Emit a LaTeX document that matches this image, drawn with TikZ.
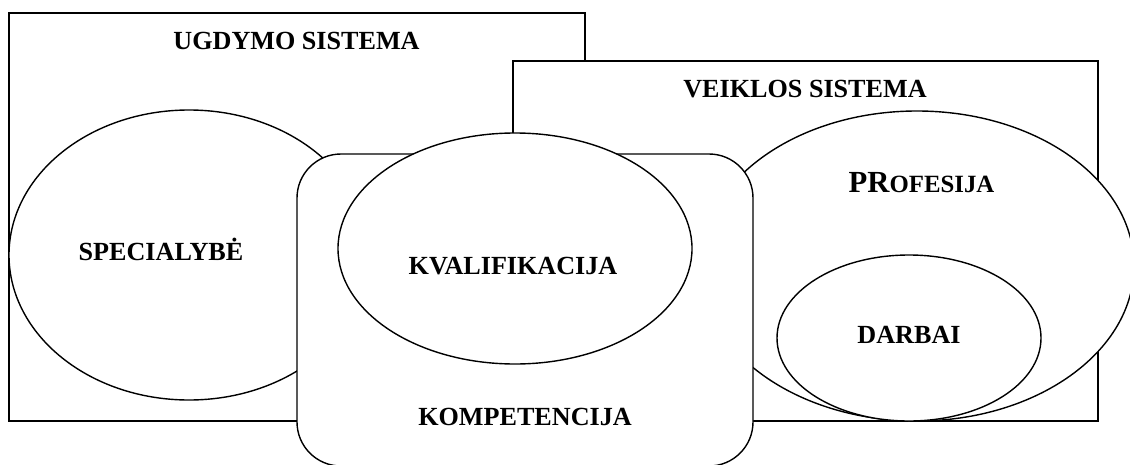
\documentclass[tikz,border=0pt]{standalone}
\usepackage{fontspec}
\setmainfont{Liberation Serif}
\begin{document}
\begin{tikzpicture}[x=0.75pt,y=-0.75pt,
  figshape/.style={draw=black,fill=white,line width=1.05pt},
  lbl/.style={anchor=base,inner sep=0pt,font=\fontsize{19.6}{23}\selectfont\bfseries}]
\useasboundingbox (0,0) rectangle (1130,464);
\clip (0,0) rectangle (1130,464);
% systems
\draw[figshape] (9,13) rectangle (585,421);
\draw[figshape] (513,61) rectangle (1098,421);
% outer ellipses
\draw[figshape] (189,255) ellipse [x radius=180, y radius=145];
\draw[figshape] (917,266) ellipse [x radius=217, y radius=155];
% competence
\draw[figshape,rounded corners=33pt] (297,154) rectangle (753,466);
% inner ellipses
\draw[figshape] (515,248.5) ellipse [x radius=177, y radius=115.5];
\draw[figshape] (909,338) ellipse [x radius=132, y radius=83];
% labels
\node[lbl] (ugd) at (296.5,49.3) {UGDYMO SISTEMA};
\node[lbl] (vei) at (805,97) {VEIKLOS SISTEMA};
\node[lbl] (spe) at (161,260) {SPECIALYBĖ};
\node[lbl] (kva) at (513,274) {KVALIFIKACIJA};
\node[lbl] (kom) at (525,425) {KOMPETENCIJA};
\node[anchor=base,inner sep=0pt,font=\bfseries] (pro) at (921.5,192.7)
  {{\fontsize{23}{26}\selectfont PR}{\fontsize{18.6}{21}\selectfont OFESIJA}};
\node[lbl] (dar) at (909,343) {DARBAI};
\end{tikzpicture}
\end{document}
